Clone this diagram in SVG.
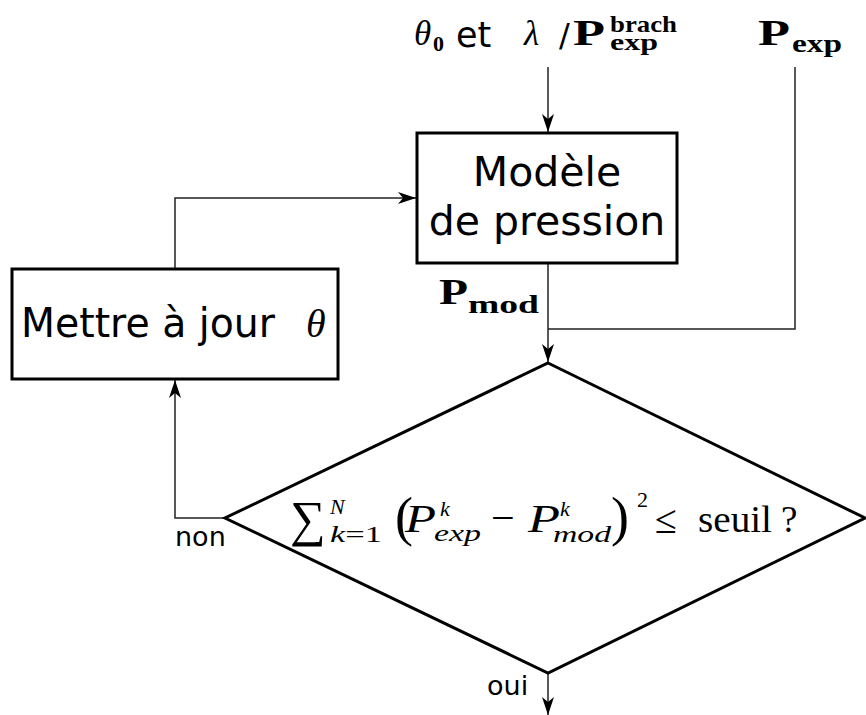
<svg xmlns="http://www.w3.org/2000/svg" width="866" height="715" viewBox="0 0 866 715">
<defs>
<style>
.box{fill:#fff;stroke:#000;stroke-width:3}
.conn{fill:none;stroke:#222;stroke-width:1.5}
.sans{font-family:"DejaVu Sans","Liberation Sans",sans-serif;fill:#000}
.m{font-family:"Liberation Serif","DejaVu Serif",serif;fill:#000}
.i{font-style:italic}
.b{font-weight:bold}
</style>
<marker id="arr" markerWidth="18" markerHeight="12" viewBox="0 0 18 12" refX="18" refY="6" orient="auto" markerUnits="userSpaceOnUse">
<path d="M0,0 L18,6 L0,12 L5,6 Z" fill="#000"/>
</marker>
</defs>
<rect width="866" height="715" fill="#fff"/>
<g id="connectors">
<path class="conn" d="M548,67 V132" marker-end="url(#arr)"/>
<path class="conn" d="M175,269 V198 H416" marker-end="url(#arr)"/>
<path class="conn" d="M548,263 V362" marker-end="url(#arr)"/>
<path class="conn" d="M795,67 V329 H548"/>
<path class="conn" d="M225,518 H175 V380" marker-end="url(#arr)"/>
<path class="conn" d="M548,673 V715" marker-end="url(#arr)"/>
</g>
<g id="inputs">
<text class="m i" x="414" y="45" font-size="35">θ</text>
<text class="m b" x="433" y="51" font-size="22">0</text>
<text class="sans" x="456" y="47" font-size="35">et</text>
<text class="m i" x="524" y="45" font-size="35">λ</text>
<text class="sans" x="559" y="46" font-size="32">/</text>
<text class="m b" x="573" y="45" font-size="36" textLength="32" lengthAdjust="spacingAndGlyphs">P</text>
<text class="m b" x="610" y="32" font-size="24" textLength="67" lengthAdjust="spacingAndGlyphs">brach</text>
<text class="m b" x="610" y="50" font-size="24" textLength="48" lengthAdjust="spacingAndGlyphs">exp</text>
</g>
<g id="pexp">
<text class="m b" x="758" y="45" font-size="36" textLength="32" lengthAdjust="spacingAndGlyphs">P</text>
<text class="m b" x="792" y="52" font-size="25" textLength="50" lengthAdjust="spacingAndGlyphs">exp</text>
</g>
<g id="modele">
<rect class="box" x="417" y="133" width="260" height="130"/>
<text class="sans" x="547" y="186" font-size="41" text-anchor="middle">Modèle</text>
<text class="sans" x="547" y="235" font-size="41" text-anchor="middle">de pression</text>
</g>
<g id="pmod">
<text class="m b" x="439" y="304" font-size="36" textLength="29" lengthAdjust="spacingAndGlyphs">P</text>
<text class="m b" x="468" y="313" font-size="25" textLength="71" lengthAdjust="spacingAndGlyphs">mod</text>
</g>
<g id="maj">
<rect class="box" x="12" y="269" width="326" height="110"/>
<text class="sans" x="21" y="337" font-size="40" textLength="254" lengthAdjust="spacingAndGlyphs">Mettre à jour</text>
<text class="m i" x="306" y="337" font-size="40">θ</text>
</g>
<g id="test">
<polygon class="box" points="548,363 865,518 548,673 225,518"/>
<text class="m" x="290" y="536" font-size="50">∑</text>
<text class="m i" x="330" y="514" font-size="22">N</text>
<text class="m" x="330" y="542" font-size="24" textLength="52" lengthAdjust="spacingAndGlyphs"><tspan font-style="italic">k</tspan>=1</text>
<text class="m" x="395" y="535" font-size="54">(</text>
<text class="m i" x="405" y="532" font-size="40" textLength="31" lengthAdjust="spacingAndGlyphs">P</text>
<text class="m i" x="440" y="516" font-size="22">k</text>
<text class="m i" x="434" y="541" font-size="24" textLength="47" lengthAdjust="spacingAndGlyphs">exp</text>
<text class="m" x="491" y="532" font-size="42">−</text>
<text class="m i" x="528" y="532" font-size="40" textLength="32" lengthAdjust="spacingAndGlyphs">P</text>
<text class="m i" x="560" y="516" font-size="22">k</text>
<text class="m i" x="553" y="542" font-size="24" textLength="58" lengthAdjust="spacingAndGlyphs">mod</text>
<text class="m" x="611" y="535" font-size="54">)</text>
<text class="m" x="637" y="507" font-size="22">2</text>
<text class="m" x="655" y="533" font-size="40">≤</text>
<text class="m" x="698" y="532" font-size="38" textLength="74" lengthAdjust="spacingAndGlyphs">seuil</text>
<text class="m" x="781" y="532" font-size="37">?</text>
</g>
<g id="labels">
<text class="sans" x="175" y="546" font-size="27">non</text>
<text class="sans" x="487" y="695" font-size="27">oui</text>
</g>
</svg>
